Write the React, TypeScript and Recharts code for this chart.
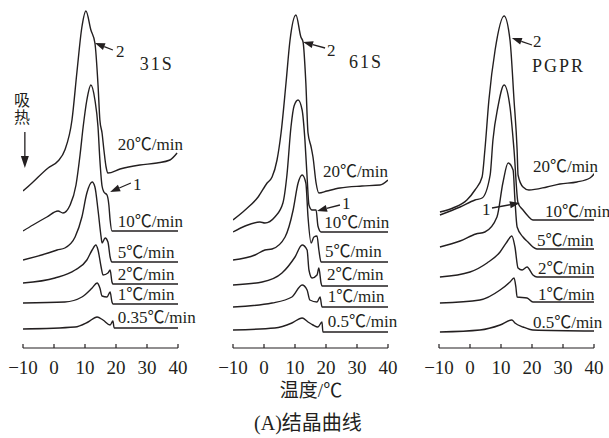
import { LineChart, Line, XAxis, YAxis, ReferenceLine, ReferenceDot } from "recharts";

type Pt = [number, number];

const INK = "#231f20";
const SERIF = "'Liberation Serif', 'Noto Sans CJK SC', serif";
const CJK = "'Noto Sans CJK SC', 'Liberation Serif', serif";

const tempTicks = [-10, 0, 10, 20, 30, 40];

// 31S: temperature (℃) vs heat flow (offset traces, arbitrary units)
const rates31 = ["20℃/min", "10℃/min", "5℃/min", "2℃/min", "1℃/min", "0.35℃/min"];
const c31_20: Pt[] = [[-10.0, 15.7], [-7.1, 16.5], [-1.9, 18.0], [1.3, 18.7], [3.5, 19.8], [5.8, 22.8], [7.4, 27.6], [9.0, 32.1], [10.3, 33.7], [11.9, 31.8], [13.2, 30.5], [14.2, 26.3], [14.8, 22.8], [15.5, 21.5], [16.1, 19.8], [16.8, 18.1], [17.4, 17.5], [21.3, 17.9], [27.7, 18.3], [33.2, 18.5], [37.4, 18.8], [39.7, 19.5]];
const c31_10: Pt[] = [[-10.0, 11.7], [-6.8, 12.3], [-2.3, 13.1], [1.3, 13.7], [2.9, 13.5], [5.2, 14.3], [7.1, 16.3], [8.4, 19.3], [9.4, 22.1], [10.6, 24.8], [11.9, 26.3], [13.2, 24.8], [14.2, 22.1], [14.8, 18.8], [15.5, 16.2], [16.1, 15.6], [17.1, 15.3], [17.7, 14.3], [18.1, 12.8], [18.7, 11.7], [40.0, 11.7]];
const c31_5: Pt[] = [[-10.0, 8.8], [-1.9, 9.5], [1.0, 9.8], [3.5, 10.0], [6.8, 11.1], [9.0, 13.1], [10.6, 15.5], [12.3, 16.6], [13.2, 16.1], [14.2, 13.8], [15.2, 11.1], [15.5, 10.5], [16.5, 11.0], [17.4, 10.6], [18.1, 9.1], [18.7, 8.6], [40.0, 8.6]];
const c31_2: Pt[] = [[-10.0, 6.5], [0.3, 7.0], [6.8, 7.8], [10.6, 8.8], [12.3, 9.8], [13.5, 10.3], [14.2, 9.8], [15.2, 8.1], [15.8, 7.3], [17.4, 7.5], [18.1, 7.8], [18.7, 6.6], [19.0, 6.4], [40.0, 6.4]];
const c31_1: Pt[] = [[-10.0, 4.5], [3.5, 4.6], [9.0, 5.1], [12.3, 6.0], [13.9, 6.5], [14.8, 6.0], [15.5, 5.2], [17.1, 5.1], [18.1, 5.6], [18.7, 4.6], [19.0, 4.4], [40.0, 4.4]];
const c31_035: Pt[] = [[-10.0, 1.9], [6.8, 2.1], [11.0, 2.6], [13.9, 3.1], [15.8, 2.8], [18.1, 2.3], [19.0, 2.7], [19.4, 2.0], [40.0, 2.0]];
const tags31: Pt[] = [[20.6, 19.8], [20.6, 12.1], [20.6, 9.0], [20.6, 6.8], [20.6, 4.8], [20.6, 2.5]];

// 61S
const rates61 = ["20℃/min", "10℃/min", "5℃/min", "2℃/min", "1℃/min", "0.5℃/min"];
const c61_20: Pt[] = [[-10.0, 12.8], [-6.1, 13.8], [-1.9, 15.1], [1.0, 16.5], [2.6, 17.1], [4.2, 18.8], [5.5, 21.5], [7.1, 26.5], [8.4, 30.8], [10.3, 33.3], [11.9, 31.1], [12.6, 30.6], [13.5, 26.5], [14.2, 21.5], [15.2, 20.1], [15.8, 19.1], [16.8, 16.5], [17.7, 15.5], [20.3, 15.7], [24.5, 16.0], [31.6, 16.2], [37.4, 16.3], [40.0, 16.8]];
const c61_10: Pt[] = [[-10.0, 11.6], [-6.1, 12.2], [-1.3, 12.6], [0.3, 12.5], [3.5, 13.1], [6.1, 14.5], [7.4, 17.3], [8.7, 22.1], [9.7, 24.2], [11.0, 24.8], [12.3, 23.8], [13.2, 20.8], [13.9, 17.1], [14.5, 14.3], [15.5, 13.8], [16.8, 13.8], [17.4, 12.2], [18.4, 11.6], [40.0, 11.6]];
const c61_5: Pt[] = [[-10.0, 8.8], [-2.9, 9.3], [0.3, 9.8], [2.6, 9.9], [6.8, 11.1], [9.4, 13.8], [11.0, 16.5], [12.3, 17.3], [13.5, 16.5], [14.2, 13.1], [15.2, 10.5], [16.1, 11.1], [17.1, 11.2], [17.7, 9.8], [18.4, 8.6], [40.0, 8.6]];
const c61_2: Pt[] = [[-10.0, 6.3], [-0.6, 6.6], [5.8, 7.5], [10.0, 9.1], [12.3, 10.3], [13.9, 9.8], [14.5, 7.8], [15.5, 7.0], [17.1, 7.3], [17.7, 8.0], [18.4, 6.5], [18.7, 6.2], [40.0, 6.2]];
const c61_1: Pt[] = [[-10.0, 4.1], [2.6, 4.5], [9.0, 5.1], [12.3, 6.3], [13.9, 5.8], [14.8, 4.8], [17.1, 4.6], [18.1, 5.1], [18.7, 4.1], [40.0, 4.1]];
const c61_05: Pt[] = [[-10.0, 1.8], [3.5, 2.0], [9.0, 2.5], [12.3, 3.0], [14.2, 2.6], [15.8, 2.3], [17.4, 2.1], [18.7, 2.6], [19.0, 1.6], [40.0, 1.6]];
const tags61: Pt[] = [[19.0, 17.1], [19.4, 12.0], [19.7, 9.1], [20.3, 6.8], [20.6, 4.6], [20.6, 2.1]];

// PGPR
const ratesPG = ["20℃/min", "10℃/min", "5℃/min", "2℃/min", "1℃/min", "0.5℃/min"];
const cPG_20: Pt[] = [[-9.7, 13.6], [-5.5, 14.0], [-1.0, 14.8], [1.6, 15.8], [3.9, 17.1], [4.8, 19.8], [6.1, 24.8], [8.1, 29.8], [11.0, 33.2], [12.9, 30.8], [14.2, 24.8], [15.2, 19.8], [15.5, 17.3], [17.1, 16.1], [19.0, 15.8], [24.8, 16.1], [29.0, 16.4], [34.5, 16.6], [38.7, 17.0], [40.3, 17.5]];
const cPG_10: Pt[] = [[-9.7, 13.3], [-3.2, 14.1], [1.6, 14.8], [3.9, 15.0], [6.5, 17.3], [7.4, 20.8], [9.0, 24.1], [11.0, 26.3], [12.9, 24.1], [14.2, 19.8], [15.5, 14.5], [17.1, 13.8], [18.7, 13.2], [20.3, 12.8], [40.0, 12.8]];
const cPG_5: Pt[] = [[-9.7, 10.1], [-3.2, 10.7], [1.9, 11.4], [4.8, 11.6], [8.7, 13.1], [10.6, 16.5], [12.3, 18.5], [13.9, 17.8], [14.5, 14.8], [15.2, 12.1], [17.1, 11.1], [18.7, 10.6], [20.3, 10.1], [21.6, 9.9], [40.3, 9.9]];
const cPG_2: Pt[] = [[-9.7, 7.1], [0.0, 7.6], [5.5, 8.5], [9.7, 9.6], [11.9, 10.6], [13.5, 11.2], [14.5, 10.1], [15.5, 8.0], [16.8, 7.8], [18.4, 8.1], [20.3, 7.3], [21.6, 7.1], [40.3, 7.1]];
const cPG_1: Pt[] = [[-9.7, 4.5], [3.2, 4.8], [9.7, 5.8], [12.9, 6.6], [14.2, 7.0], [14.8, 6.1], [15.2, 5.1], [18.4, 5.0], [20.3, 4.6], [40.3, 4.6]];
const cPG_05: Pt[] = [[-9.7, 1.6], [3.2, 1.8], [9.7, 2.3], [13.5, 2.8], [14.5, 2.5], [17.1, 2.1], [20.3, 1.8], [40.3, 1.7]];
const tagsPG: Pt[] = [[20.3, 17.6], [24.2, 13.1], [21.6, 10.2], [21.9, 7.4], [21.9, 4.8], [20.3, 2.0]];

type Note = { text: string; at: Pt; from: Pt; to: Pt };

const notes31: Note[] = [
  { text: "2", at: [20.0, 29.1], from: [19.0, 29.8], to: [13.2, 30.5] },
  { text: "1", at: [25.5, 15.8], from: [24.8, 16.5], to: [18.1, 15.6] },
];
const notes61: Note[] = [
  { text: "2", at: [20.3, 29.2], from: [19.7, 30.0], to: [12.6, 30.6] },
  { text: "1", at: [25.2, 13.9], from: [24.5, 14.3], to: [17.1, 13.7] },
];
const notesPG: Note[] = [
  { text: "2", at: [20.3, 30.1], from: [20.0, 30.3], to: [13.5, 31.0] },
  { text: "1", at: [3.9, 13.3], from: [7.1, 14.0], to: [16.1, 14.5] },
];

const rows = (pts: Pt[]) => pts.map(([t, v]) => ({ t, v }));

const fmtTick = (v: number) => (v < 0 ? "−" + Math.abs(v) : String(v));

const AxisTick = (p: any) => (
  <g>
    <line x1={p.x} y1={p.y} x2={p.x} y2={p.y - 4} stroke={INK} strokeWidth={1.2} />
    <text x={p.x} y={p.y + 26} textAnchor="middle" fontSize={19} fontFamily={SERIF} fill={INK}>
      {fmtTick(p.payload.value)}
    </text>
  </g>
);

const Arrow = (p: any) => {
  const { x1, y1, x2, y2 } = p;
  const dx = x2 - x1;
  const dy = y2 - y1;
  const len = Math.hypot(dx, dy) || 1;
  const ux = dx / len;
  const uy = dy / len;
  const hl = p.headLen ?? 10;
  const hw = p.headWidth ?? 3.5;
  const bx = x2 - ux * hl;
  const by = y2 - uy * hl;
  return (
    <g>
      <line x1={x1} y1={y1} x2={bx} y2={by} stroke={INK} strokeWidth={1.3} />
      <polygon
        points={`${x2},${y2} ${bx - uy * hw},${by + ux * hw} ${bx + uy * hw},${by - ux * hw}`}
        fill={INK}
      />
    </g>
  );
};

const textAt = (text: string, size = 17, anchor: "start" | "middle" = "start", font = SERIF, spacing = 0) =>
  (p: any) => (
    <text x={p.cx} y={p.cy} fontSize={size} fontFamily={font} textAnchor={anchor} fill={INK} letterSpacing={spacing}>
      {text}
    </text>
  );

// vertical "吸热" caption, written top to bottom
const endoLabel = (p: any) => (
  <text
    x={p.cx}
    y={p.cy}
    fontSize={16}
    fontFamily={CJK}
    fill={INK}
    letterSpacing={1}
    style={{ writingMode: "vertical-rl" }}
  >
    吸热
  </text>
);

interface PanelProps {
  left: number;
  curves: Pt[][];
  rates: string[];
  tags: Pt[];
  notes: Note[];
  title: string;
  titleAt: Pt;
  children?: any;
}

function Panel({ left, curves, rates, tags, notes, title, titleAt, children }: PanelProps) {
  return (
    <div style={{ position: "absolute", left, top: 0 }}>
      <LineChart width={260} height={400} margin={{ top: 0, right: 82, bottom: 0, left: 23 }}>
        <XAxis
          dataKey="t"
          type="number"
          domain={[-10, 40]}
          allowDataOverflow
          ticks={tempTicks}
          interval={0}
          axisLine={{ stroke: INK, strokeWidth: 1.2 }}
          tickLine={false}
          tickSize={0}
          tickMargin={0}
          height={52}
          tick={AxisTick}
        />
        <YAxis type="number" domain={[0, 34.8]} allowDataOverflow hide />
        {curves.map((c, i) => (
          <Line
            key={i}
            data={rows(c)}
            dataKey="v"
            type="monotone"
            dot={false}
            stroke={INK}
            strokeWidth={1.4}
            isAnimationActive={false}
          />
        ))}
        {rates.map((r, i) => (
          <ReferenceDot key={r} x={tags[i][0]} y={tags[i][1]} r={0} ifOverflow="visible" shape={textAt(r)} />
        ))}
        {notes.map((n, i) => (
          <ReferenceLine
            key={"a" + i}
            segment={[{ x: n.from[0], y: n.from[1] }, { x: n.to[0], y: n.to[1] }]}
            ifOverflow="visible"
            shape={Arrow}
          />
        ))}
        {notes.map((n, i) => (
          <ReferenceDot key={"n" + i} x={n.at[0]} y={n.at[1]} r={0} ifOverflow="visible" shape={textAt(n.text)} />
        ))}
        <ReferenceDot x={titleAt[0]} y={titleAt[1]} r={0} ifOverflow="visible" shape={textAt(title, 18, "start", SERIF, 2)} />
        {children}
      </LineChart>
    </div>
  );
}

export default function App() {
  return (
    <div
      style={{
        position: "absolute",
        left: 0,
        top: 0,
        width: 609,
        height: 438,
        overflow: "hidden",
        background: "#fff",
      }}
    >
      <Panel
        left={0}
        curves={[c31_20, c31_10, c31_5, c31_2, c31_1, c31_035]}
        rates={rates31}
        tags={tags31}
        notes={notes31}
        title="31S"
        titleAt={[27.7, 27.8]}
      >
        <ReferenceDot x={-10.3} y={25.6} r={0} ifOverflow="visible" shape={endoLabel} />
        <ReferenceLine
          segment={[{ x: -9.4, y: 21.6 }, { x: -9.4, y: 18.0 }]}
          ifOverflow="visible"
          shape={(p: any) => <Arrow {...p} headLen={12} headWidth={4} />}
        />
      </Panel>
      <Panel
        left={210}
        curves={[c61_20, c61_10, c61_5, c61_2, c61_1, c61_05]}
        rates={rates61}
        tags={tags61}
        notes={notes61}
        title="61S"
        titleAt={[27.4, 28.0]}
      />
      <Panel
        left={416}
        curves={[cPG_20, cPG_10, cPG_5, cPG_2, cPG_1, cPG_05]}
        rates={ratesPG}
        tags={tagsPG}
        notes={notesPG}
        title="PGPR"
        titleAt={[20.0, 27.6]}
      />
      <svg width={609} height={438} style={{ position: "absolute", left: 0, top: 0, pointerEvents: "none" }}>
        <text x={311} y={397} textAnchor="middle" fontSize={19} fontFamily={SERIF} fill={INK}>
          温度/℃
        </text>
        <text x={308} y={430} textAnchor="middle" fontSize={20} fontFamily={SERIF} fill={INK}>
          (A)结晶曲线
        </text>
      </svg>
    </div>
  );
}
